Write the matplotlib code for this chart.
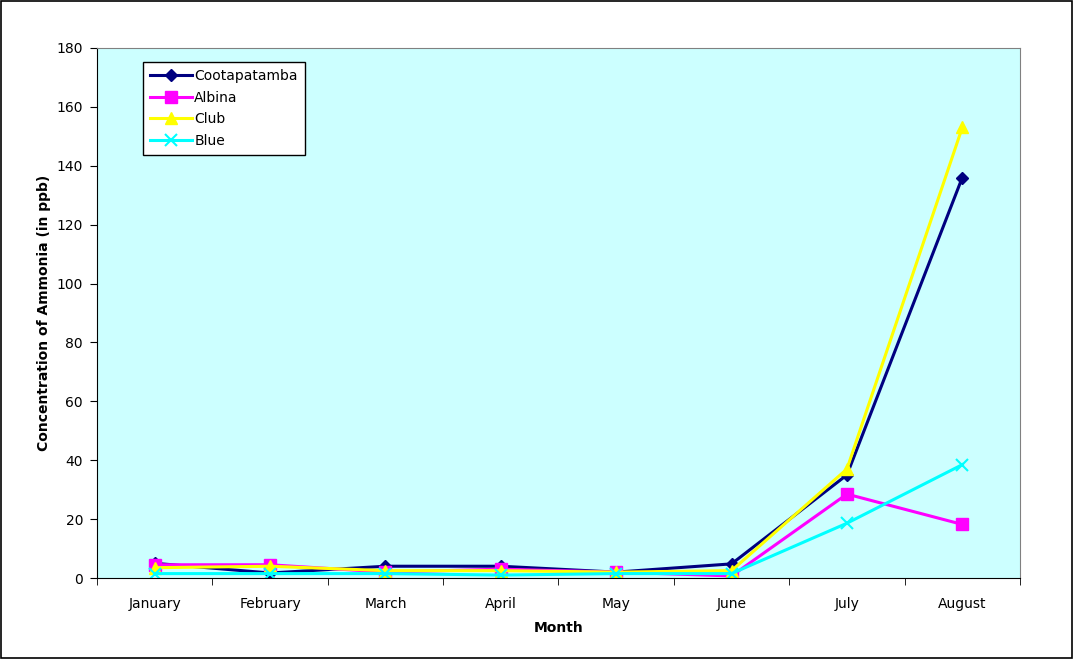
import matplotlib.pyplot as plt
import numpy as np
from matplotlib.patches import Rectangle

months = ['January', 'February', 'March', 'April', 'May', 'June', 'July', 'August']
cootapatamba = [5.0, 1.7, 4.0, 4.0, 2.0, 4.8, 35.0, 136.0]
albina = [4.5, 4.5, 2.0, 3.0, 2.0, 0.7, 28.5, 18.2]
club = [3.5, 4.0, 2.5, 2.5, 2.0, 2.5, 37.0, 153.0]
blue = [1.5, 1.5, 1.5, 1.0, 1.5, 1.5, 18.6, 38.5]

fig = plt.figure(figsize=(10.74, 6.59), dpi=100)
fig.patches.append(Rectangle((0.001, 0.002), 0.997, 0.996, transform=fig.transFigure,
                             fill=False, edgecolor='black', linewidth=1.2))
ax = fig.add_axes([0.0903, 0.1229, 0.8594, 0.8043])
ax.set_facecolor('#ccffff')

x = np.arange(len(months))
ax.plot(x, cootapatamba, color='#000080', marker='D', markersize=6, linewidth=2.2, label='Cootapatamba')
ax.plot(x, albina, color='#ff00ff', marker='s', markersize=8, linewidth=2.2, label='Albina')
ax.plot(x, club, color='#ffff00', marker='^', markersize=8, linewidth=2.2, label='Club')
ax.plot(x, blue, color='#00ffff', marker='x', markersize=9, markeredgewidth=1.5, linewidth=2.2, label='Blue')

ax.set_xlim(-0.5, len(months) - 0.5)
ax.set_ylim(0, 180)
ax.set_yticks(np.arange(0, 181, 20))
ax.set_xticks(x)
ax.set_xticklabels(months)
ax.set_xticks(np.arange(-0.5, len(months), 1), minor=True)
ax.tick_params(axis='x', which='major', length=0, labelsize=10, pad=14)
ax.tick_params(axis='x', which='minor', length=5, direction='out')
ax.tick_params(axis='y', length=5, direction='out', labelsize=10, pad=5)

for s in ['top', 'right']:
    ax.spines[s].set_color('#808080')
for s in ['left', 'bottom']:
    ax.spines[s].set_color('black')

ax.set_xlabel('Month', fontsize=10, fontweight='bold', labelpad=7)
ax.set_ylabel('Concentration of Ammonia (in ppb)', fontsize=10, fontweight='bold', labelpad=4)

leg = ax.legend(loc='upper left', bbox_to_anchor=(0.0498, 0.9736), fontsize=10, frameon=True,
                fancybox=False, edgecolor='black', framealpha=1, handlelength=3.0,
                handletextpad=0.2, labelspacing=0.55, borderpad=0.5, borderaxespad=0)
leg.get_frame().set_linewidth(1.0)

fig.savefig('out.png', dpi=100)
